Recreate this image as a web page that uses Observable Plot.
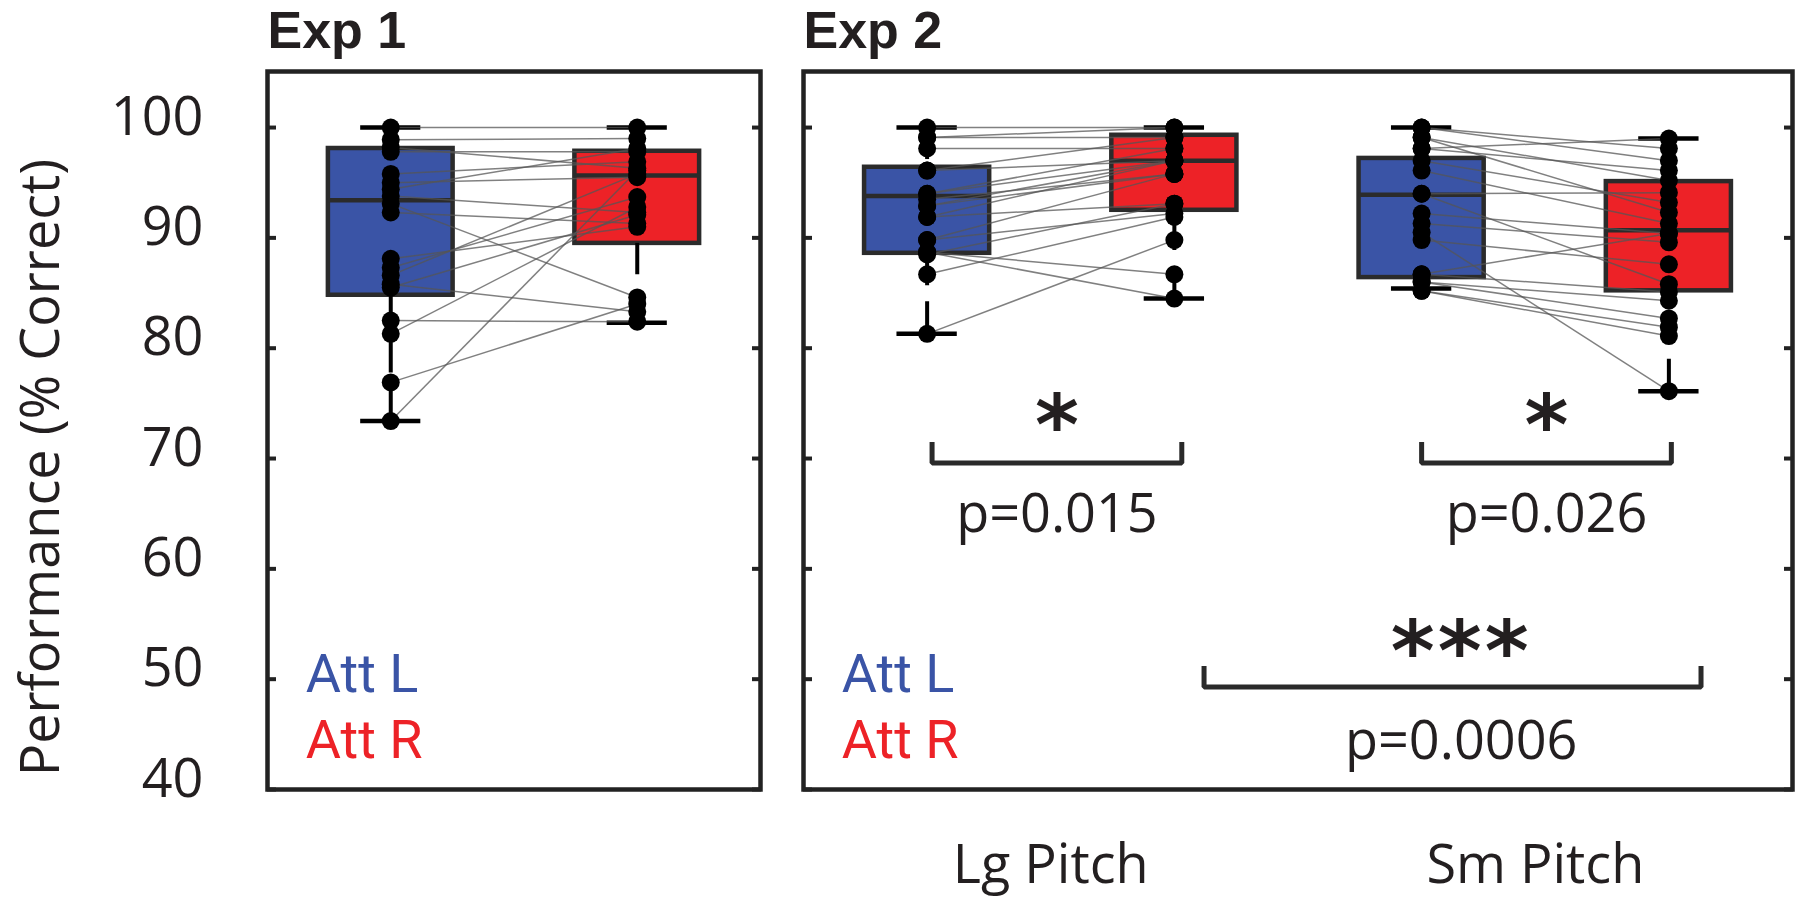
<!DOCTYPE html>
<html>
<head>
<meta charset="utf-8">
<script src="https://cdn.jsdelivr.net/npm/d3@7"></script>
<script src="https://cdn.jsdelivr.net/npm/@observablehq/plot@0.6"></script>
<style>
  html, body { margin: 0; padding: 0; background: #fff; }
  #fig { position: relative; width: 1800px; height: 899px; font-family: "Open Sans", sans-serif; }
  #p1 { position: absolute; left: 0; top: 0; }
  #p2 { position: absolute; left: 780px; top: 0; }
</style>
</head>
<body>
<div id="fig"><div id="p1"></div><div id="p2"></div></div>
<script>
// ---------------- data ----------------
const yTicks = [40, 50, 60, 70, 80, 90, 100];
const yLabel = "Performance (% Correct)";
const panelTitles = ["Exp 1", "Exp 2"];
const conditions = ["Att L", "Att R"];
const pitchLabels = ["Lg Pitch", "Sm Pitch"];
const pitchLabelPos = [1.5, 3.46];

// Exp 1 paired subjects
const exp1AttL = [100, 98.9, 98.2, 97.8, 95.8, 95.0, 94.4, 93.8, 93.1, 92.3, 88.1, 87.3, 86.6, 85.8, 85.5, 82.5, 81.3, 76.9, 73.4];
const exp1AttR = [100, 99.0, 96.3, 97.8, 96.9, 95.5, 98.1, 92.3, 84.6, 91.3, 91.0, 93.7, 95.8, 83.3, 92.1, 82.4, 92.8, 84.0, 96.1];

// Exp 2 paired subjects
const lgAttL = [100, 99.1, 99.1, 98.1, 96.1, 96.1, 94.0, 94.0, 93.5, 92.9, 92.9, 91.9, 91.9, 89.8, 89.8, 88.7, 88.7, 86.7, 81.3, 88.5];
const lgAttR = [100, 100, 99.1, 98.1, 99.1, 97.0, 98.1, 97.0, 95.8, 97.0, 95.8, 97.0, 93.1, 95.8, 92.2, 86.7, 84.5, 91.9, 89.8, 93.1];
const smAttL = [100, 100, 99.1, 99.1, 98.1, 98.1, 97.0, 96.1, 94.0, 94.0, 92.2, 91.3, 90.5, 89.8, 86.7, 86.7, 86.0, 86.0, 85.2, 85.2];
const smAttR = [97.0, 98.1, 95.2, 92.3, 99.0, 96.1, 93.2, 91.3, 94.1, 85.8, 90.4, 89.6, 76.1, 87.6, 90.4, 85.1, 84.3, 82.7, 81.9, 81.1];

// Box statistics (Att L, Att R)
const exp1Q1 = [84.8, 89.5];
const exp1Median = [93.4, 95.65];
const exp1Q3 = [98.1, 97.85];
const exp1Lo = [73.4, 82.3];
const exp1Hi = [100, 100];

// Box statistics (Lg L, Lg R, Sm L, Sm R)
const exp2Q1 = [88.6, 92.5, 86.4, 85.2];
const exp2Median = [93.8, 97.0, 93.9, 90.7];
const exp2Q3 = [96.4, 99.3, 97.2, 95.1];
const exp2Lo = [81.3, 84.5, 85.4, 76.1];
const exp2Hi = [100, 100, 100, 99.0];

// Significance annotations (Exp 2)
const sigStars = ["*", "*", "***"];
const sigP = ["p=0.015", "p=0.026", "p=0.0006"];
const sigFrom = [1.02, 3.0, 2.12];
const sigTo = [2.03, 4.01, 4.13];
const sigLevel = [69.6, 69.6, 49.3];
const sigStarY = [74.0, 74.0, 53.5];
const sigPY = [63.3, 63.3, 42.72];
const sigLabelX = [1.525, 3.505, 3.16];

// Legend (text baselines)
const legendX = 0.655;
const legendY = [48.8, 42.9];

// ---------------- styles ----------------
const BLUE = "#3a54a6";
const RED = "#ed2227";
const INK = "#231f20";
const FONT = 54;
const HALF = 0.253;   // half box width in x units
const CAP = 0.122;    // half cap width
const Y_DOMAIN = [40, 105.08];
const STAR_SIZE = 84;

function buildBoxes(q1, med, q3, lo, hi) {
  return q1.map((_, i) => ({
    pos: i + 1, cond: conditions[i % 2],
    q1: q1[i], median: med[i], q3: q3[i], lo: lo[i], hi: hi[i]
  }));
}
function buildPoints(pairs) {
  const pts = [];
  pairs.forEach(([L, R], k) => {
    L.forEach(v => pts.push({pos: 2 * k + 1, v}));
    R.forEach(v => pts.push({pos: 2 * k + 2, v}));
  });
  return pts;
}
function buildLinks(pairs) {
  const out = [];
  pairs.forEach(([L, R], k) => {
    L.forEach((v, i) => out.push({x1: 2 * k + 1, x2: 2 * k + 2, y1: v, y2: R[i]}));
  });
  return out;
}

function dataMarks(boxes, points, links) {
  return [
    Plot.rect(boxes, {x1: d => d.pos - HALF, x2: d => d.pos + HALF, y1: "q1", y2: "q3", fill: "cond", stroke: "#2b2b2b", strokeWidth: 4.5}),
    Plot.ruleY(boxes, {y: "median", x1: d => d.pos - HALF, x2: d => d.pos + HALF, stroke: "#2b2b2b", strokeWidth: 4.5}),
    Plot.ruleX(boxes, {x: "pos", y1: "hi", y2: "q3", stroke: "#000", strokeWidth: 4, strokeDasharray: "32,16"}),
    Plot.ruleX(boxes, {x: "pos", y1: "lo", y2: "q1", stroke: "#000", strokeWidth: 4, strokeDasharray: "32,16"}),
    Plot.ruleY(boxes, {y: "hi", x1: d => d.pos - CAP, x2: d => d.pos + CAP, stroke: "#000", strokeWidth: 4.5}),
    Plot.ruleY(boxes, {y: "lo", x1: d => d.pos - CAP, x2: d => d.pos + CAP, stroke: "#000", strokeWidth: 4.5}),
    Plot.link(links, {x1: "x1", y1: "y1", x2: "x2", y2: "y2", stroke: "#555", strokeOpacity: 0.75, strokeWidth: 1.5}),
    Plot.dot(points, {x: "pos", y: "v", r: 9, fill: "#000"})
  ];
}

function frameMarks(title) {
  return [
    Plot.frame({stroke: "#222", strokeWidth: 4.5}),
    Plot.axisY({anchor: "left", ticks: yTicks, tickSize: 9, insetLeft: 9, fill: "none", stroke: "#222", strokeWidth: 4, label: null}),
    Plot.axisY({anchor: "right", ticks: yTicks, tickSize: 9, insetRight: 9, fill: "none", stroke: "#222", strokeWidth: 4, label: null}),
    Plot.text([title], {text: d => d, frameAnchor: "top-left", dy: -24, lineAnchor: "bottom", textAnchor: "start", fontFamily: "Liberation Sans", fontWeight: "bold", fontSize: 52, fill: INK}),
    Plot.text(conditions, {text: d => d, x: () => legendX, y: (d, i) => legendY[i], fill: d => d, textAnchor: "start", lineAnchor: "bottom", fontFamily: "Roboto", fontSize: FONT})
  ];
}

const common = {
  height: 899, marginTop: 71, marginBottom: 110,
  y: {domain: Y_DOMAIN},
  color: {domain: conditions, range: [BLUE, RED]},
  style: {fontFamily: "Open Sans", fontSize: FONT + "px", color: INK, background: "transparent", overflow: "visible"}
};

// ---------------- Panel 1 ----------------
const exp1Boxes = buildBoxes(exp1Q1, exp1Median, exp1Q3, exp1Lo, exp1Hi);
const exp1Pairs = [[exp1AttL, exp1AttR]];
const plot1 = Plot.plot({
  ...common,
  width: 780, marginLeft: 267, marginRight: 20,
  x: {domain: [0.5, 2.5], axis: null},
  marks: [
    ...dataMarks(exp1Boxes, buildPoints(exp1Pairs), buildLinks(exp1Pairs)),
    ...frameMarks(panelTitles[0]),
    Plot.axisY({anchor: "left", ticks: yTicks, tickSize: 0, tickPadding: 64, dy: -10, fontSize: FONT, label: null, fill: INK}),
    Plot.text([yLabel], {text: d => d, frameAnchor: "left", rotate: -90, dx: -209, dy: 37, lineAnchor: "bottom", textAnchor: "middle", fontSize: FONT, fill: INK})
  ]
});
document.getElementById("p1").appendChild(plot1);

// ---------------- Panel 2 ----------------
const exp2Boxes = buildBoxes(exp2Q1, exp2Median, exp2Q3, exp2Lo, exp2Hi);
const exp2Pairs = [[lgAttL, lgAttR], [smAttL, smAttR]];
const brackets = [];
sigFrom.forEach((f, i) => {
  const h = 1.9;
  brackets.push({k: i, x: f, y: sigLevel[i] + h});
  brackets.push({k: i, x: f, y: sigLevel[i]});
  brackets.push({k: i, x: sigTo[i], y: sigLevel[i]});
  brackets.push({k: i, x: sigTo[i], y: sigLevel[i] + h});
});
const plot2 = Plot.plot({
  ...common,
  width: 1020, marginLeft: 23, marginRight: 8,
  x: {domain: [0.5, 4.5]},
  marks: [
    ...dataMarks(exp2Boxes, buildPoints(exp2Pairs), buildLinks(exp2Pairs)),
    ...frameMarks(panelTitles[1]),
    Plot.axisX({ticks: pitchLabelPos, tickFormat: d => pitchLabels[pitchLabelPos.indexOf(d)], tickSize: 0, tickPadding: 55, fontSize: FONT, label: null, fill: INK}),
    Plot.line(brackets, {x: "x", y: "y", z: "k", stroke: "#2a2a2a", strokeWidth: 5, strokeLinejoin: "miter", strokeLinecap: "butt"}),
    Plot.text(sigStars, {text: d => d, x: (d, i) => sigLabelX[i], y: (d, i) => sigStarY[i], dy: 0.475 * STAR_SIZE, lineAnchor: "bottom", textAnchor: "middle", fontFamily: "DejaVu Sans", fontSize: STAR_SIZE, fontWeight: "bold", fill: INK}),
    Plot.text(sigP, {text: d => d, x: (d, i) => sigLabelX[i], y: (d, i) => sigPY[i], lineAnchor: "bottom", textAnchor: "middle", fontSize: FONT, fill: INK})
  ]
});
d3.select(plot2).selectAll("text").filter(function () { return this.textContent === "***"; }).attr("letter-spacing", "3px");
document.getElementById("p2").appendChild(plot2);
</script>
</body>
</html>
